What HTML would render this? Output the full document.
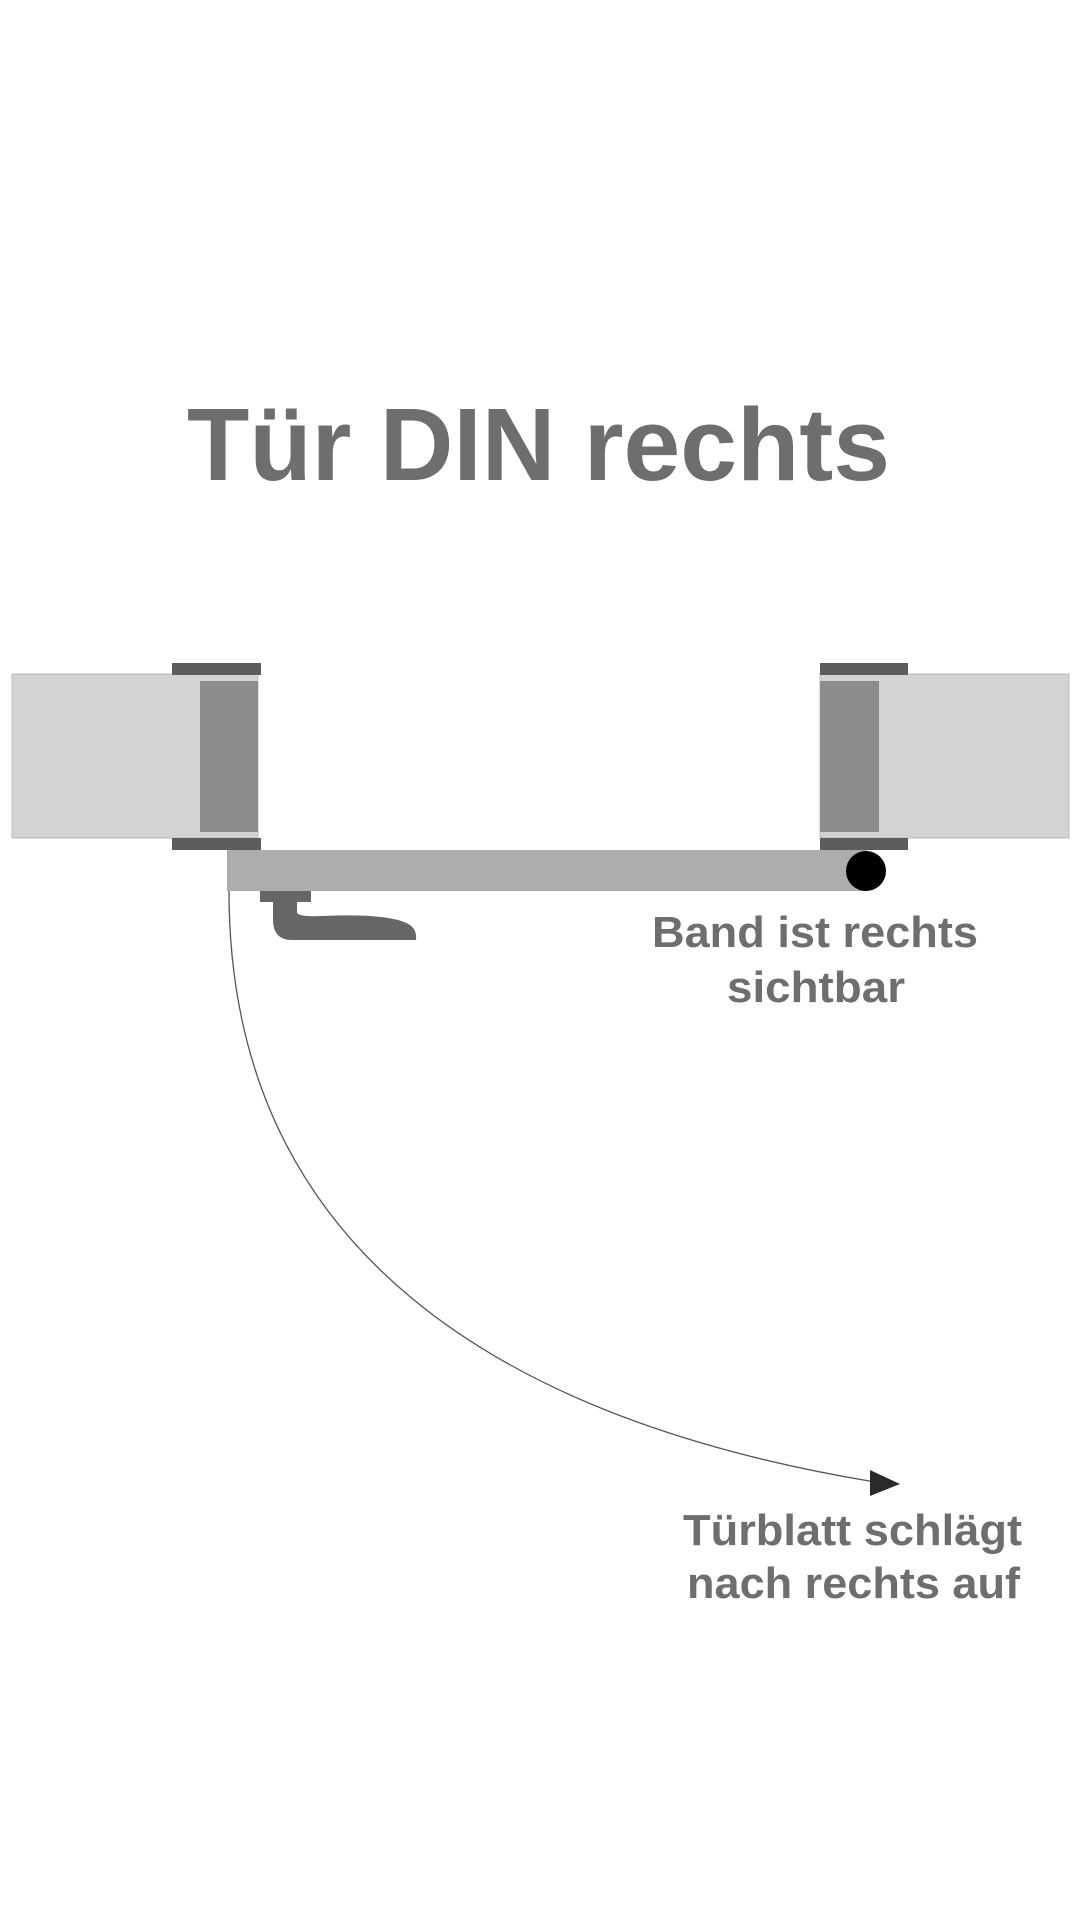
<!DOCTYPE html>
<html><head><meta charset="utf-8"><style>
html,body{margin:0;padding:0;background:#fff;width:1080px;height:1920px;overflow:hidden}
svg{display:block}
text{font-family:"Liberation Sans",Arial,sans-serif;font-weight:bold;fill:#6e6e6e}
</style></head><body>
<svg width="1080" height="1920" viewBox="0 0 1080 1920">
<text x="187" y="480" font-size="103" textLength="703" lengthAdjust="spacingAndGlyphs">Tür DIN rechts</text>
<!-- left wall -->
<rect x="12" y="674" width="246" height="164" fill="#d3d3d3" stroke="#bdbdbd" stroke-width="1"/>
<rect x="200" y="681" width="58" height="151" fill="#8c8c8c"/>
<rect x="172" y="663" width="89" height="12" fill="#5c5c5c"/>
<rect x="172" y="838" width="89" height="12" fill="#5c5c5c"/>
<!-- right wall -->
<rect x="820" y="674" width="249" height="164" fill="#d3d3d3" stroke="#bdbdbd" stroke-width="1"/>
<rect x="820" y="681" width="59" height="151" fill="#8c8c8c"/>
<rect x="820" y="663" width="88" height="12" fill="#5c5c5c"/>
<rect x="820" y="838" width="88" height="12" fill="#5c5c5c"/>
<!-- door -->
<rect x="227" y="850" width="640" height="41" fill="#adadad"/>
<ellipse cx="866" cy="871" rx="20" ry="20" fill="#000"/>
<!-- handle -->
<rect x="260" y="891" width="51" height="11" fill="#666"/>
<path d="M273,902 L297,902 L297,913 Q300,917 322,916 Q392,913 410,925 Q417,930 416,940 L292,940 Q273,940 273,920 Z" fill="#666"/>
<!-- swing arc -->
<path d="M229,891 C229,1250 500,1420 875,1482" fill="none" stroke="#555" stroke-width="1.3"/>
<polygon points="870,1470 900,1484 870,1496" fill="#2a2a2a"/>
<text x="652" y="947" font-size="44" textLength="326" lengthAdjust="spacingAndGlyphs">Band ist rechts</text>
<text x="727" y="1002" font-size="44" textLength="178" lengthAdjust="spacingAndGlyphs">sichtbar</text>
<text x="683" y="1545" font-size="44" textLength="339" lengthAdjust="spacingAndGlyphs">Türblatt schlägt</text>
<text x="687" y="1598" font-size="44" textLength="333" lengthAdjust="spacingAndGlyphs">nach rechts auf</text>
</svg>
</body></html>
